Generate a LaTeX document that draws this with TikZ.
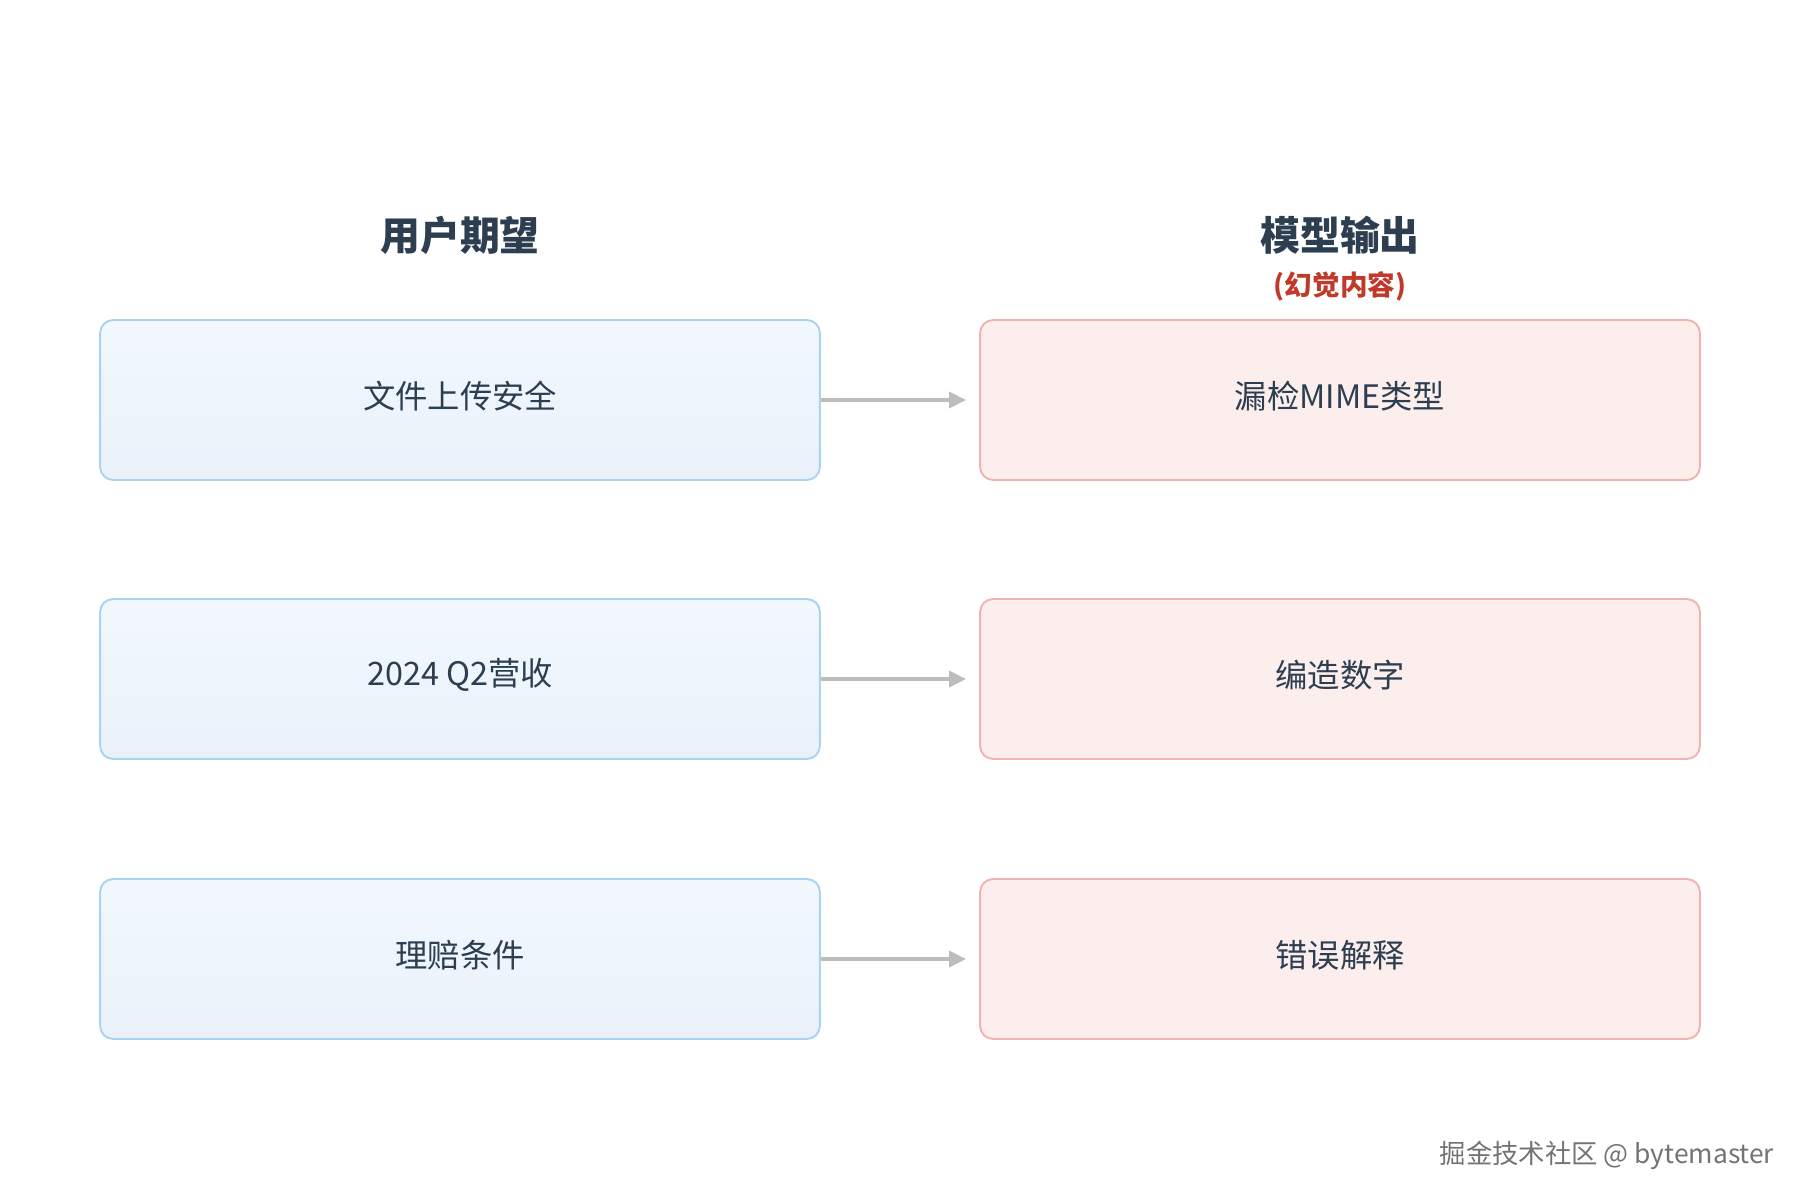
\documentclass[tikz,border=0pt]{standalone}
\usepackage{fontspec}
\setmainfont{Noto Sans CJK SC}
\usetikzlibrary{arrows.meta}
\definecolor{titletxt}{HTML}{2C3E50}
\definecolor{halluc}{HTML}{C0392B}
\definecolor{userfillA}{HTML}{F2F8FE}
\definecolor{userfillB}{HTML}{EAF1FA}
\definecolor{userline}{HTML}{A9D3EE}
\definecolor{modelfill}{HTML}{FDEEEE}
\definecolor{modelline}{HTML}{F0B4B0}
\definecolor{arrowgray}{HTML}{BDBDBD}
\begin{document}
\begin{tikzpicture}[x=0.02cm,y=-0.02cm,line join=round,
  userbox/.style={draw=userline,line width=1.1pt,rounded corners=7.5pt,top color=userfillA,bottom color=userfillB,
    minimum width=14.4cm,minimum height=3.2cm},
  modelbox/.style={draw=modelline,line width=1.1pt,rounded corners=7.5pt,fill=modelfill,
    minimum width=14.4cm,minimum height=3.2cm},
  boxtext/.style={text=titletxt,font=\fontsize{18.4}{22}\selectfont},
  coltitle/.style={text=titletxt,font=\fontsize{22.7}{27}\selectfont\bfseries},
  maparrow/.style={draw=arrowgray,line width=2pt,-{Triangle[length=0.34cm,width=0.32cm]},shorten >=0.26cm}]
  \useasboundingbox (0,0) rectangle (1800,1200);
  % column heads
  \node[coltitle] (usertitle) at (460,235) {用户期望};
  \node[coltitle] (modeltitle) at (1340,235) {模型输出};
  \node[text=halluc,font=\fontsize{15.7}{19}\selectfont\bfseries] (modelnote) at (1340,286) {(幻觉内容)};
  % rows
  \foreach \i/\y in {1/400,2/679,3/959} {
    \node[userbox] (user\i) at (460,\y) {};
    \node[modelbox] (model\i) at (1340,\y) {};
  }
  \node[boxtext] (usertext1) at (460,396) {文件上传安全};
  \node[boxtext] (usertext2) at (460,675) {2024 Q2营收};
  \node[boxtext] (usertext3) at (460,955) {理赔条件};
  \node[boxtext] (modeltext1) at (1340,396) {漏检MIME类型};
  \node[boxtext] (modeltext2) at (1340,675) {编造数字};
  \node[boxtext] (modeltext3) at (1340,955) {错误解释};
  \foreach \i in {1,2,3}
    \draw[maparrow] (user\i.east) -- (model\i.west);
  % watermark
  \node[text=black!55,font=\fontsize{15}{18}\selectfont] (mark) at (1607,1155) {掘金技术社区 @ bytemaster};
\end{tikzpicture}
\end{document}
